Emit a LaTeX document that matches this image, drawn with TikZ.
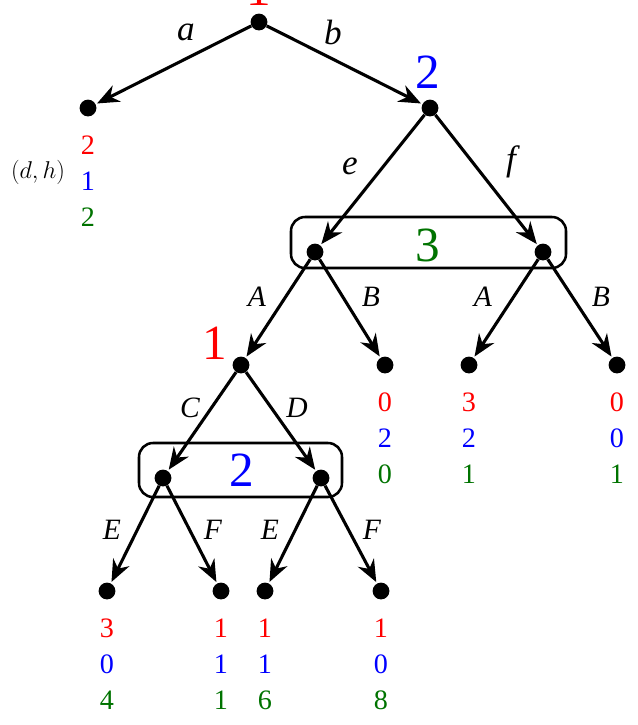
\documentclass[tikz,border=0pt]{standalone}
\usepackage{fontspec}
\setmainfont{Liberation Serif}
\usetikzlibrary{arrows.meta, positioning}
\colorlet{darkgreen}{green!45!black}
\tikzset{
    x=0.025cm, y=-0.025cm,
    vertex/.style={circle, fill=black, inner sep=0pt, minimum size=0.42cm},
    edge/.style={draw=black, line width=2.2pt, -{Stealth[length=0.55cm, width=0.45cm]}, shorten >=1pt},
    move/.style={font=\fontsize{25}{28}\selectfont\itshape},
    smallmove/.style={font=\fontsize{21}{24}\selectfont\itshape},
    payoff/.style={font=\fontsize{20}{23}\selectfont, inner sep=1pt},
    player/.style={font=\fontsize{35}{38}\selectfont},
    infoset/.style={draw=black, line width=1.8pt, rounded corners=0.35cm}
}
\begin{document}
\begin{tikzpicture}
\useasboundingbox (0,0) rectangle (638,725);

% Information sets
\draw[infoset] (291,217) rectangle (566,268);
\draw[infoset] (139,443) rectangle (342,497);

% Decision nodes
\node[vertex] (root) at (259,22) {};
\node[vertex] (na) at (88,108) {};
\node[vertex] (nb) at (430,108) {};
\node[vertex] (ne) at (315,252) {};
\node[vertex] (nf) at (543,252) {};
\node[vertex] (neA) at (241,365) {};
\node[vertex] (neB) at (385,365) {};
\node[vertex] (nfA) at (469,365) {};
\node[vertex] (nfB) at (617,365) {};
\node[vertex] (nC) at (163,478) {};
\node[vertex] (nD) at (321,478) {};
\node[vertex] (nCE) at (107,591) {};
\node[vertex] (nCF) at (221,591) {};
\node[vertex] (nDE) at (265,591) {};
\node[vertex] (nDF) at (381,591) {};

% Player labels
\node[player, text=red] (p0) at (259,-11) {1};
\node[player, text=blue] (p1) at (428,72) {2};
\node[player, text=darkgreen] (p2) at (428,245) {3};
\node[player, text=red] (p3) at (215,343) {1};
\node[player, text=blue] (p4) at (242,470) {2};

% Moves
\draw[edge] (root) -- (na);
\draw[edge] (root) -- (nb);
\draw[edge] (nb) -- (ne);
\draw[edge] (nb) -- (nf);
\draw[edge] (ne) -- (neA);
\draw[edge] (ne) -- (neB);
\draw[edge] (nf) -- (nfA);
\draw[edge] (nf) -- (nfB);
\draw[edge] (neA) -- (nC);
\draw[edge] (neA) -- (nD);
\draw[edge] (nC) -- (nCE);
\draw[edge] (nC) -- (nCF);
\draw[edge] (nD) -- (nDE);
\draw[edge] (nD) -- (nDF);

\node[move] (la) at (186,32) {a};
\node[move] (lb) at (333,32) {b};
\node[move] (le) at (350,166) {e};
\node[move] (lf) at (511,162) {f};
\node[smallmove] (lA1) at (257,297) {A};
\node[smallmove] (lB1) at (371,297) {B};
\node[smallmove] (lA2) at (483,297) {A};
\node[smallmove] (lB2) at (601,297) {B};
\node[smallmove] (lC) at (190,408) {C};
\node[smallmove] (lD) at (297,408) {D};
\node[smallmove] (lE1) at (112,530) {E};
\node[smallmove] (lF1) at (213,530) {F};
\node[smallmove] (lE2) at (270,530) {E};
\node[smallmove] (lF2) at (372,530) {F};

% Payoffs
\node[font=\fontsize{17}{19}\selectfont] (key) at (38,172) {$(d,h)$};
\foreach \n/\x/\y/\r/\b/\g in {pa/88/108/2/1/2, peB/385/365/0/2/0, pfA/469/365/3/2/1,
    pfB/617/365/0/0/1, pCE/107/591/3/0/4, pCF/221/591/1/1/1, pDE/265/591/1/1/6, pDF/381/591/1/0/8}{
  \node[payoff, text=red] (\n r) at (\x,\y+37) {\r};
  \node[payoff, text=blue] (\n b) at (\x,\y+73) {\b};
  \node[payoff, text=darkgreen] (\n g) at (\x,\y+109) {\g};
}
\end{tikzpicture}
\end{document}
